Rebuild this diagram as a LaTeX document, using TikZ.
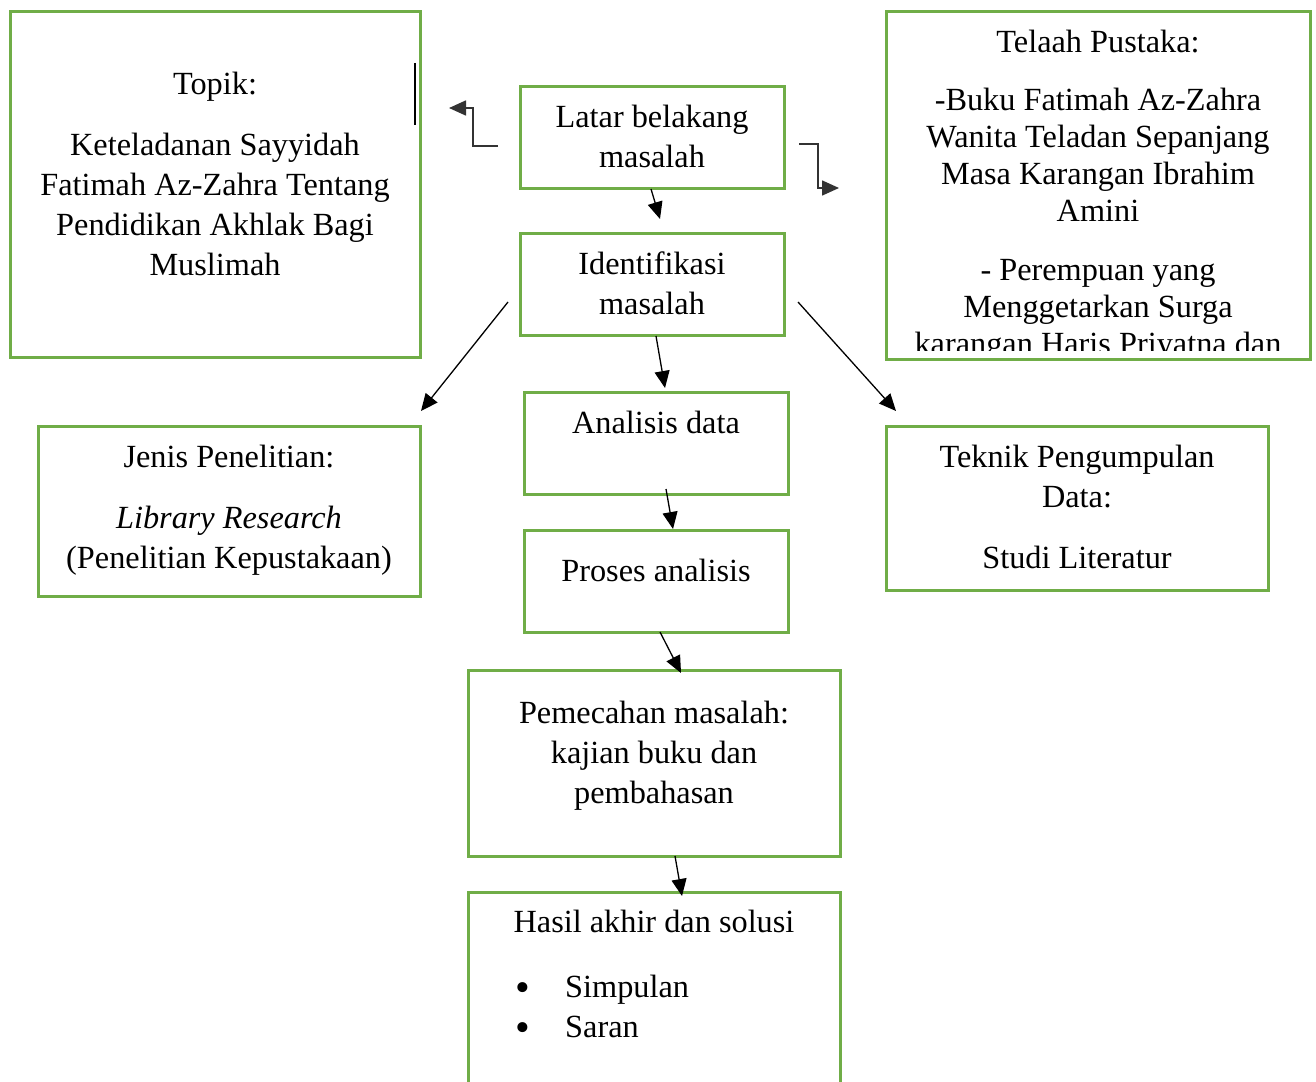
\documentclass[tikz,border=0pt]{standalone}
\usepackage{fontspec}
\setmainfont{Liberation Serif}
\usetikzlibrary{arrows.meta}
\definecolor{leaf}{HTML}{70AD47}

\begin{document}
\begin{tikzpicture}[x=1pt, y=-1pt,
        box/.style = {draw=leaf, line width=3pt, inner sep=0pt},
        txt/.style = {anchor=north, align=center, inner sep=0pt, font=\fontsize{32.3}{40}\selectfont},
        arr/.style = {-{Triangle[length=17pt, width=15pt]}, line width=1.3pt},
        elb/.style = {arr, draw=black!80, line width=1.6pt}]
    \useasboundingbox (0,0) rectangle (1316,1081);

    \node[box, minimum width=410, minimum height=345] at (215, 184.5) (topik) {};
    \node[box, minimum width=264, minimum height=102] at (652, 137) (latar) {};
    \node[box, minimum width=424, minimum height=347] at (1098, 185.5) (telaah) {};
    \node[box, minimum width=264, minimum height=102] at (652, 284) (ident) {};
    \node[box, minimum width=382, minimum height=170] at (229, 511) (jenis) {};
    \node[box, minimum width=264, minimum height=102] at (656, 443) (analisis) {};
    \node[box, minimum width=382, minimum height=164] at (1077, 508) (teknik) {};
    \node[box, minimum width=264, minimum height=102] at (656, 581) (proses) {};
    \node[box, minimum width=372, minimum height=186] at (654, 763) (pemecahan) {};
    \node[box, minimum width=372, minimum height=208] at (654, 996) (hasil) {};

    \node[txt] at (215, 72) (topik-t) {Topik:\\[21pt] Keteladanan Sayyidah\\ Fatimah Az-Zahra Tentang\\ Pendidikan Akhlak Bagi\\ Muslimah};
    \draw[line width=2pt] (415, 63) -- (415, 125);
    \node[txt] at (652, 105) (latar-t) {Latar belakang\\ masalah};
    \begin{scope}
        \clip (886, 12) rectangle (1310, 350);
        \node[txt, font=\fontsize{32.3}{37}\selectfont] at (1098, 30) (telaah-t) {Telaah Pustaka:\\[21pt] -Buku Fatimah Az-Zahra\\ Wanita Teladan Sepanjang\\ Masa Karangan Ibrahim\\ Amini\\[22pt] - Perempuan yang\\ Menggetarkan Surga\\ karangan Haris Priyatna dan};
    \end{scope}
    \node[txt] at (652, 252) (ident-t) {Identifikasi\\ masalah};
    \node[txt] at (229, 445) (jenis-t) {Jenis Penelitian:\\[21pt] \textit{Library Research}\\ (Penelitian Kepustakaan)};
    \node[txt] at (656, 411) (analisis-t) {Analisis data};
    \node[txt] at (1077, 445) (teknik-t) {Teknik Pengumpulan\\ Data:\\[21pt] Studi Literatur};
    \node[txt] at (656, 559) (proses-t) {Proses analisis};
    \node[txt] at (654, 701) (pemecahan-t) {Pemecahan masalah:\\ kajian buku dan\\ pembahasan};
    \node[txt] at (654, 910) (hasil-t) {Hasil akhir dan solusi};
    \node[txt, anchor=north west, align=left] at (515, 974.5) (hasil-l) {\makebox[50pt][l]{\raisebox{-4pt}{\scalebox{1.3}{\textbullet}}}Simpulan\\ \makebox[50pt][l]{\raisebox{-4pt}{\scalebox{1.3}{\textbullet}}}Saran};

    \coordinate (latar-w) at (498, 146);
    \coordinate (topik-e) at (449, 108);
    \coordinate (latar-e) at (799, 144);
    \coordinate (telaah-w) at (839, 188);
    \coordinate (latar-s) at (651, 189);
    \coordinate (ident-n) at (660, 219);
    \coordinate (ident-s) at (656, 336);
    \coordinate (analisis-n) at (665, 388);
    \coordinate (ident-w) at (508, 302);
    \coordinate (jenis-n) at (421, 411);
    \coordinate (ident-e) at (798, 302);
    \coordinate (teknik-n) at (896, 411);
    \coordinate (analisis-s) at (666, 489);
    \coordinate (proses-n) at (673, 529);
    \coordinate (proses-s) at (660, 632);
    \coordinate (pemecahan-n) at (681, 673);
    \coordinate (pemecahan-s) at (675, 856);
    \coordinate (hasil-n) at (682, 896);

    \draw[elb] (latar-w) -| (473, 108) -- (topik-e);
    \draw[elb] (latar-e) -| (818, 188) -- (telaah-w);
    \draw[arr] (latar-s) -- (ident-n);
    \draw[arr] (ident-s) -- (analisis-n);
    \draw[arr] (ident-w) -- (jenis-n);
    \draw[arr] (ident-e) -- (teknik-n);
    \draw[arr] (analisis-s) -- (proses-n);
    \draw[arr] (proses-s) -- (pemecahan-n);
    \draw[arr] (pemecahan-s) -- (hasil-n);
\end{tikzpicture}
\end{document}
